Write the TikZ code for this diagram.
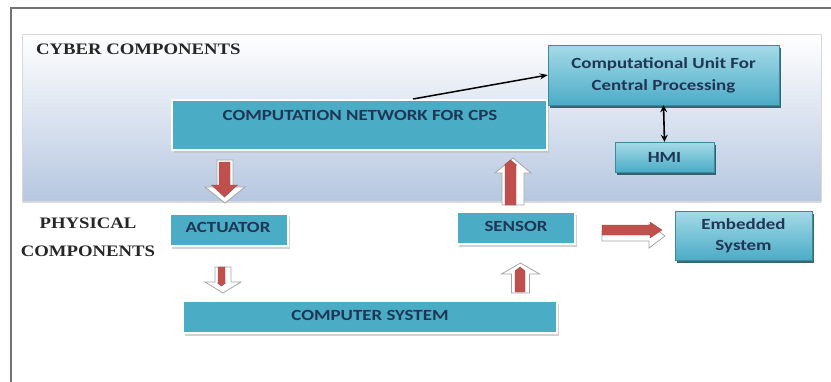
\documentclass[tikz,border=0pt]{standalone}
\usepackage{fontspec}
\setmainfont{Liberation Serif}
\newfontfamily\boxfont[FakeStretch=1.22]{Carlito}
\newfontfamily\lblfont[FakeStretch=1.17]{Liberation Serif}
\usetikzlibrary{arrows.meta,shadows}
\definecolor{teal1}{HTML}{4BACC6}
\definecolor{teallt}{HTML}{A5DAE8}
\definecolor{navy}{HTML}{1F3654}
\definecolor{redar}{HTML}{C0504D}
\definecolor{panelbot}{HTML}{B6C7E0}
\tikzset{
  flatbox/.style={fill=teal1, draw=white, line width=1.5pt, inner sep=0pt,
    drop shadow={shadow xshift=1.5pt, shadow yshift=-3pt, fill=black!25, opacity=0.7}},
  gradbox/.style={top color=teallt, bottom color=teal1, draw=teal1!80!black, line width=0.4pt, inner sep=0pt,
    drop shadow={shadow xshift=2pt, shadow yshift=-2.5pt, fill=teal1!50!black, opacity=0.9}},
  btext/.style={font=\boxfont\bfseries\fontsize{15.5}{18}\selectfont, text=navy, align=center, inner sep=0pt},
  ltext/.style={font=\lblfont\bfseries\fontsize{16}{19}\selectfont, text=black!85, inner sep=0pt},
  pics/backarr/.style n args={4}{code={
    \filldraw[fill=white, draw=black!35, line width=0.8pt] (0,-#2) -- ({#1-#4},-#2) -- ({#1-#4},-#3) -- (#1,0)
      -- ({#1-#4},#3) -- ({#1-#4},#2) -- (0,#2) -- cycle;}},
  pics/frontarr/.style n args={4}{code={
    \filldraw[fill=redar, draw=redar!85!black, line width=0.4pt] (0,-#2) -- ({#1-#4},-#2) -- ({#1-#4},-#3) -- (#1,0)
      -- ({#1-#4},#3) -- ({#1-#4},#2) -- (0,#2) -- cycle;}},
}
\begin{document}
\begin{tikzpicture}[x=1pt,y=-1pt]
\useasboundingbox (0,0) rectangle (831,381);
\fill[white] (0,0) rectangle (831,381);
% outer frame
\draw[black!55, line width=1.2pt] (11,385) -- (11,8) -- (835,8);
% cyber panel
\node[draw=black!15, top color=white, bottom color=panelbot, minimum width=799pt, minimum height=167pt,
  inner sep=0pt, drop shadow={shadow xshift=0pt, shadow yshift=-1.5pt, fill=black!30}] (panel) at (421.5,117.5) {};
\node[ltext, anchor=west] (cyb) at (36,49) {CYBER COMPONENTS};
% boxes
\node[flatbox, minimum width=375pt, minimum height=50pt] (cn) at (359.5,125) {};
\node[btext] (cnt) at (360,115) {COMPUTATION NETWORK FOR CPS};
\node[gradbox, minimum width=231pt, minimum height=60pt] (cu) at (663.5,75) {};
\node[btext] (cut) at (cu) {Computational Unit For\\[4pt]Central Processing};
\node[gradbox, minimum width=99pt, minimum height=30pt] (hmi) at (664.5,157) {};
\node[btext] (hmit) at (hmi) {HMI};
\node[flatbox, minimum width=118pt, minimum height=32pt] (act) at (229,230) {};
\node[btext] (actt) at (228,227) {ACTUATOR};
\node[flatbox, minimum width=118pt, minimum height=32pt] (sen) at (516,228) {};
\node[btext] (sent) at (516,226) {SENSOR};
\node[flatbox, minimum width=374pt, minimum height=32pt] (cs) at (370,317) {};
\node[btext] (cst) at (370,315) {COMPUTER SYSTEM};
\node[gradbox, minimum width=137pt, minimum height=49pt] (emb) at (743.5,235.5) {};
\node[btext] (embt) at (emb) {Embedded\\[3pt]System};
\node[ltext, align=center] (phy) at (88,237) {PHYSICAL\\[9pt]COMPONENTS};
% thin black arrows
\draw[-{Stealth[length=8pt,width=6pt]}, line width=1.5pt] (413,99) -- (cu.west);
\draw[{Stealth[length=7pt,width=7pt]}-{Stealth[length=7pt,width=7pt]}, line width=1.6pt] (cu.south) -- (hmi.north);
% block arrows: light back arrow with red arrow in front
\coordinate (d1b) at (225,160);
\coordinate (d1f) at (224.5,162);
\pic[rotate=-90] at (d1b) {backarr={43}{8}{20}{16}};
\pic[rotate=-90] at (d1f) {frontarr={35}{5.5}{13}{12}};
\coordinate (u1b) at (513,205);
\coordinate (u1f) at (510.5,205);
\pic[rotate=90] at (u1b) {backarr={47}{11}{18}{15}};
\pic[rotate=90] at (u1f) {frontarr={45}{5.5}{6}{5}};
\coordinate (r1b) at (602,236);
\coordinate (r1f) at (602,230);
\pic at (r1b) {backarr={63}{5}{12}{16}};
\pic at (r1f) {frontarr={60}{5}{8}{12}};
\coordinate (d2b) at (223,267);
\coordinate (d2f) at (221.5,267);
\pic[rotate=-90] at (d2b) {backarr={26}{8}{18}{11}};
\pic[rotate=-90] at (d2f) {frontarr={19}{3.5}{4}{3}};
\coordinate (u2b) at (520.5,293);
\coordinate (u2f) at (520,292);
\pic[rotate=90] at (u2b) {backarr={30}{9}{19}{11}};
\pic[rotate=90] at (u2f) {frontarr={25}{5}{5}{4}};
\end{tikzpicture}
\end{document}
